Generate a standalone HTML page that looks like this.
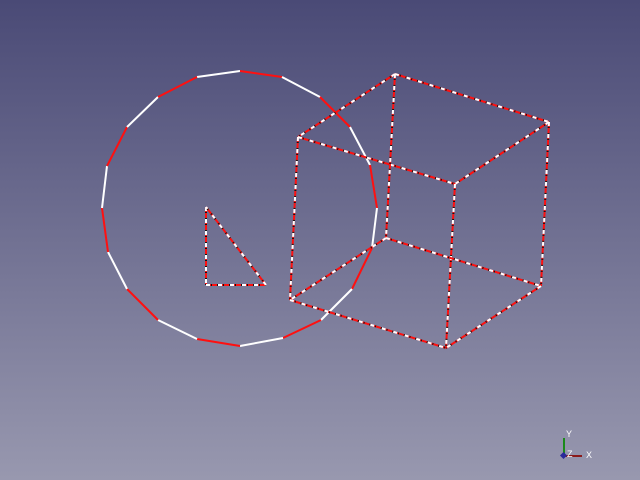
<!DOCTYPE html>
<html><head><meta charset="utf-8"><style>
html,body{margin:0;padding:0}
body{width:640px;height:480px;overflow:hidden;background:linear-gradient(#4a4a76,#9898af)}
svg{display:block}
</style></head><body>
<svg width="640" height="480">
<g id="poly"></g>
<g id="tri"></g>
<g id="cube"></g>
<g font-family="Liberation Sans, sans-serif" font-size="9">
<line x1="564" y1="456" x2="564" y2="438" stroke="#1a8a1a" stroke-width="2"/>
<line x1="564" y1="456" x2="582" y2="456" stroke="#8a1a1a" stroke-width="2"/>
<rect x="561" y="453" width="5" height="5" fill="#2a2a9a" transform="rotate(45 563.5 455.5)"/>
<text x="566" y="437" fill="#fff">Y</text>
<text x="567" y="457" fill="#fff">Z</text>
<text x="586" y="458" fill="#fff">X</text>
</g>
</svg>
<script>
const polyPts=[[197,77],[240,71],[282,77],[320,97],[350,127],[370,165],[377,208],[372,248],[352,289],[321,320],[283,338],[240,346],[197,339],[158,320],[127,289],[108,252],[102,208],[107,166],[127,127],[158,97]];
const triPts=[[206,207],[206,285],[266,285]];
const cubePts=[[395,74],[549,122],[298,137],[455,184],[386,238],[541,286],[290,300],[446,348]];
const cubeEdges=[[0,1],[0,2],[1,3],[2,3],[0,4],[1,5],[2,6],[3,7],[4,5],[4,6],[6,7],[5,7]];
const NS='http://www.w3.org/2000/svg';
function ln(g,a,b,c,dash,off){const l=document.createElementNS(NS,'line');
l.setAttribute('x1',a[0]);l.setAttribute('y1',a[1]);l.setAttribute('x2',b[0]);l.setAttribute('y2',b[1]);
l.setAttribute('stroke',c);l.setAttribute('stroke-width',2);
if(dash){l.setAttribute('stroke-dasharray',dash);l.setAttribute('stroke-dashoffset',off||0);}


g.appendChild(l);}
const pg=document.getElementById('poly');
polyPts.forEach((p,i)=>{ln(pg,p,polyPts[(i+1)%polyPts.length],i%2?'#ff1010':'#ffffff');});
function dashed(g,a,b){ln(g,a,b,'#ff1010');ln(g,a,b,'#ffffff','4 8',0);ln(g,a,b,'#111','1 5',1);}
const tg=document.getElementById('tri');
triPts.forEach((p,i)=>dashed(tg,p,triPts[(i+1)%3]));
const cg=document.getElementById('cube');
cubeEdges.forEach(e=>dashed(cg,cubePts[e[0]],cubePts[e[1]]));
</script>
</body></html>
